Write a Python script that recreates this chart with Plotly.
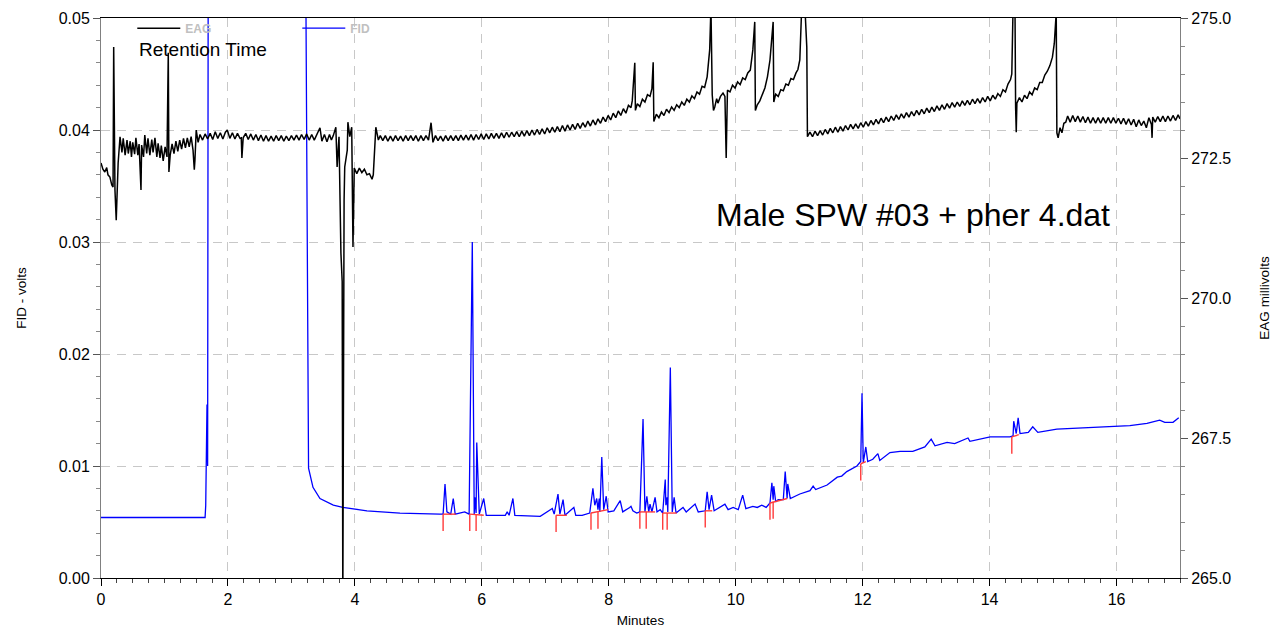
import plotly.graph_objects as go

# ---------------- data ----------------
fid_t = [0.00, 0.77, 1.64, 1.65, 1.67, 1.68, 1.69, 3.22, 3.25, 3.27, 3.34, 3.45, 3.66, 3.81,
         4.19, 4.71, 5.34, 5.39, 5.42, 5.45, 5.51, 5.55, 5.58, 5.73, 5.80, 5.85, 5.88, 5.89,
         5.91, 5.92, 5.96, 6.03, 6.07, 6.37, 6.40, 6.43, 6.49, 6.52, 6.92, 7.11, 7.14, 7.20,
         7.23, 7.28, 7.31, 7.45, 7.48, 7.58, 7.70, 7.75, 7.78, 7.81, 7.83, 7.85, 7.86, 7.89,
         7.92, 7.96, 7.99, 8.08, 8.18, 8.22, 8.33, 8.35, 8.38, 8.44, 8.49, 8.54, 8.57, 8.60,
         8.63, 8.65, 8.68, 8.73, 8.76, 8.81, 8.85, 8.89, 8.90, 8.92, 8.93, 8.97, 9.00, 9.03,
         9.06, 9.17, 9.22, 9.36, 9.41, 9.52, 9.55, 9.58, 9.62, 9.66, 9.83, 9.88, 9.96, 10.04,
         10.11, 10.16, 10.27, 10.34, 10.41, 10.48, 10.54, 10.57, 10.59, 10.60, 10.63, 10.67,
         10.75, 10.78, 10.81, 10.82, 10.86, 11.01, 11.17, 11.22, 11.26, 11.44, 11.60, 11.67,
         11.75, 11.91, 11.97, 11.99, 12.01, 12.05, 12.08, 12.16, 12.24, 12.27, 12.43, 12.59,
         12.79, 12.98, 13.08, 13.14, 13.33, 13.45, 13.66, 13.69, 14.01, 14.32, 14.37, 14.38,
         14.42, 14.45, 14.48, 14.61, 14.68, 14.76, 15.06, 15.42, 15.74, 15.94, 16.21, 16.48,
         16.68, 16.76, 16.89, 16.98]
fid_v = [0.0054, 0.0054, 0.0054, 0.0065, 0.0155, 0.0100, 0.0600, 0.0600, 0.0300, 0.0098,
         0.0081, 0.0071, 0.0065, 0.0063, 0.0060, 0.0058, 0.0057, 0.0057, 0.0084, 0.0059,
         0.0057, 0.0071, 0.0057, 0.0059, 0.0057, 0.0300, 0.0057, 0.0072, 0.0058, 0.0121,
         0.0057, 0.0071, 0.0056, 0.0056, 0.0059, 0.0056, 0.0071, 0.0056, 0.0055, 0.0062,
         0.0057, 0.0075, 0.0057, 0.0070, 0.0056, 0.0063, 0.0056, 0.0056, 0.0058, 0.0080,
         0.0065, 0.0071, 0.0061, 0.0071, 0.0059, 0.0108, 0.0061, 0.0073, 0.0059, 0.0060,
         0.0069, 0.0059, 0.0063, 0.0064, 0.0060, 0.0058, 0.0059, 0.0142, 0.0059, 0.0073,
         0.0059, 0.0066, 0.0059, 0.0072, 0.0059, 0.0061, 0.0058, 0.0088, 0.0065, 0.0072,
         0.0059, 0.0188, 0.0059, 0.0072, 0.0058, 0.0063, 0.0059, 0.0066, 0.0059, 0.0060,
         0.0077, 0.0061, 0.0074, 0.0060, 0.0066, 0.0061, 0.0063, 0.0061, 0.0074, 0.0062,
         0.0064, 0.0063, 0.0065, 0.0063, 0.0067, 0.0085, 0.0070, 0.0082, 0.0068, 0.0070,
         0.0070, 0.0095, 0.0071, 0.0084, 0.0071, 0.0075, 0.0078, 0.0082, 0.0079, 0.0083,
         0.0090, 0.0091, 0.0095, 0.0100, 0.0104, 0.0165, 0.0103, 0.0117, 0.0104, 0.0106,
         0.0111, 0.0105, 0.0112, 0.0113, 0.0113, 0.0117, 0.0124, 0.0118, 0.0121, 0.0120,
         0.0125, 0.0122, 0.0126, 0.0126, 0.0127, 0.0140, 0.0129, 0.0143, 0.0129, 0.0130,
         0.0135, 0.0130, 0.0133, 0.0134, 0.0135, 0.0135, 0.0136, 0.0138, 0.0141, 0.0139,
         0.0139, 0.0143]

# EAG trace, segment by segment (time in minutes / signal in mV)
eag_t = [
    # 0 - 0.30
    0.00, 0.03, 0.06, 0.09, 0.11, 0.14, 0.17, 0.19, 0.20, 0.22, 0.24, 0.25, 0.27, 0.30,
    # 0.30 - 1.56
    0.33, 0.35, 0.38, 0.41, 0.43, 0.46, 0.48, 0.50, 0.53, 0.55, 0.58, 0.60, 0.63, 0.64,
    0.67, 0.69, 0.72, 0.74, 0.77, 0.80, 0.82, 0.85, 0.88, 0.90, 0.93, 0.95, 0.98, 1.01,
    1.04, 1.06, 1.07, 1.09, 1.12, 1.15, 1.18, 1.21, 1.24, 1.27, 1.30, 1.33, 1.36, 1.39,
    1.42, 1.45, 1.47, 1.48, 1.50, 1.53, 1.56,
    # 1.56 - 3.99
    1.60, 1.64, 1.68, 1.72, 1.76, 1.80, 1.84, 1.88, 1.92, 1.96, 1.99, 2.03, 2.07, 2.11,
    2.15, 2.19, 2.21, 2.22, 2.24, 2.28, 2.32, 2.36, 2.40, 2.44, 2.48, 2.52, 2.56, 2.60,
    2.64, 2.68, 2.72, 2.76, 2.80, 2.84, 2.88, 2.92, 2.96, 3.00, 3.04, 3.08, 3.12, 3.16,
    3.20, 3.24, 3.28, 3.32, 3.36, 3.40, 3.45, 3.48, 3.52, 3.56, 3.60, 3.63, 3.66, 3.70,
    3.72, 3.75, 3.78, 3.80, 3.81, 3.83, 3.84, 3.88, 3.89, 3.92, 3.95, 3.97, 3.99,
    # plateau 4.0 - 4.33
    4.03, 4.07, 4.11, 4.15, 4.19, 4.23, 4.27, 4.29, 4.33,
    # 4.33 - 8.41
    4.37, 4.40, 4.44, 4.48, 4.52, 4.56, 4.60, 4.64, 4.68, 4.72, 4.76, 4.80, 4.84, 4.88,
    4.92, 4.96, 5.00, 5.04, 5.08, 5.12, 5.16, 5.20, 5.23, 5.27, 5.31, 5.35, 5.39, 5.43,
    5.47, 5.51, 5.55, 5.59, 5.63, 5.67, 5.71, 5.75, 5.79, 5.83, 5.87, 5.91, 5.95, 5.99,
    6.03, 6.07, 6.11, 6.15, 6.19, 6.23, 6.27, 6.31, 6.35, 6.39, 6.43, 6.47, 6.51, 6.55,
    6.59, 6.63, 6.67, 6.71, 6.75, 6.79, 6.83, 6.87, 6.91, 6.95, 6.99, 7.03, 7.07, 7.11,
    7.15, 7.19, 7.23, 7.27, 7.31, 7.35, 7.39, 7.43, 7.47, 7.51, 7.55, 7.59, 7.63, 7.67,
    7.71, 7.75, 7.79, 7.83, 7.87, 7.91, 7.95, 7.99, 8.03, 8.07, 8.11, 8.15, 8.19, 8.23,
    8.27, 8.31, 8.35, 8.37, 8.41,
    # responses 8.42 - 11.13
    8.42, 8.45, 8.49, 8.53, 8.57, 8.61, 8.65, 8.68, 8.70, 8.71, 8.75, 8.79, 8.83, 8.87,
    8.91, 8.95, 8.99, 9.03, 9.07, 9.11, 9.15, 9.19, 9.23, 9.27, 9.31, 9.35, 9.39, 9.43,
    9.47, 9.51, 9.55, 9.59, 9.61, 9.63, 9.65, 9.67, 9.70, 9.72, 9.76, 9.80, 9.83, 9.85,
    9.87, 9.91, 9.95, 9.99, 10.03, 10.07, 10.11, 10.15, 10.19, 10.23, 10.27, 10.30, 10.31,
    10.34, 10.38, 10.42, 10.46, 10.50, 10.54, 10.59, 10.60, 10.63, 10.67, 10.71, 10.75,
    10.79, 10.83, 10.87, 10.91, 10.95, 10.98, 11.01, 11.04, 11.09, 11.11, 11.12, 11.13,
    # slow drift 11.17 - 14.43
    11.17, 11.21, 11.25, 11.29, 11.33, 11.37, 11.41, 11.45, 11.49, 11.53, 11.57, 11.61,
    11.65, 11.69, 11.73, 11.77, 11.81, 11.85, 11.89, 11.93, 11.97, 12.01, 12.05, 12.09,
    12.13, 12.17, 12.21, 12.25, 12.29, 12.33, 12.37, 12.41, 12.45, 12.49, 12.53, 12.57,
    12.61, 12.65, 12.69, 12.73, 12.77, 12.81, 12.85, 12.89, 12.93, 12.97, 13.01, 13.05,
    13.09, 13.13, 13.17, 13.21, 13.25, 13.29, 13.33, 13.37, 13.41, 13.45, 13.49, 13.53,
    13.57, 13.61, 13.65, 13.69, 13.73, 13.77, 13.81, 13.85, 13.89, 13.93, 13.97, 14.01,
    14.05, 14.09, 14.13, 14.17, 14.21, 14.25, 14.29, 14.33, 14.35, 14.37, 14.40, 14.41,
    14.42, 14.43,
    # 14.47 - 15.08
    14.47, 14.51, 14.55, 14.59, 14.63, 14.67, 14.71, 14.75, 14.79, 14.83, 14.87, 14.91,
    14.95, 14.99, 15.02, 15.05, 15.06, 15.08,
    # 15.11 - 17
    15.11, 15.14, 15.17, 15.20, 15.23, 15.27, 15.31, 15.35, 15.39, 15.43, 15.47, 15.51,
    15.55, 15.59, 15.63, 15.67, 15.71, 15.75, 15.79, 15.83, 15.87, 15.91, 15.95, 15.99,
    16.03, 16.07, 16.11, 16.15, 16.19, 16.23, 16.27, 16.31, 16.35, 16.39, 16.43, 16.47,
    16.51, 16.55, 16.56, 16.57, 16.61, 16.65, 16.69, 16.73, 16.77, 16.81, 16.85, 16.89,
    16.93, 16.97, 17.00,
]
eag_mv = [
    # 0 - 0.30
    272.41, 272.30, 272.25, 272.33, 272.20, 272.16, 272.02, 271.98, 274.48, 271.93, 271.39,
    271.75, 272.41, 272.88,
    # 0.30 - 1.56
    272.60, 272.85, 272.55, 272.82, 272.58, 272.80, 272.52, 272.78, 272.57, 272.86, 272.55,
    272.75, 271.93, 272.73, 272.52, 272.91, 272.58, 272.85, 272.55, 272.83, 272.60, 272.86,
    272.52, 272.76, 272.50, 272.72, 272.45, 272.70, 272.52, 274.38, 272.25, 272.55, 272.75,
    272.58, 272.80, 272.62, 272.82, 272.66, 272.85, 272.68, 272.86, 272.70, 272.88, 272.64,
    272.29, 272.46, 273.00, 272.78, 272.92,
    # 1.56 - 3.99
    272.82, 272.93, 272.84, 272.94, 272.83, 272.97, 272.85, 272.95, 272.84, 272.96, 273.00,
    272.85, 272.95, 272.84, 272.94, 272.85, 272.86, 272.50, 272.86, 272.94, 272.83, 272.93,
    272.82, 272.92, 272.81, 272.91, 272.80, 272.90, 272.80, 272.89, 272.80, 272.90, 272.81,
    272.90, 272.80, 272.89, 272.81, 272.90, 272.82, 272.91, 272.82, 272.92, 272.83, 272.93,
    272.82, 272.92, 272.82, 272.93, 273.04, 272.80, 272.92, 272.79, 272.92, 272.82, 272.90,
    273.05, 272.34, 272.88, 270.80, 270.29, 264.60, 271.75, 272.34, 272.64, 273.14, 272.88,
    273.05, 270.91, 272.32,
    # plateau 4.0 - 4.33
    272.22, 272.32, 272.24, 272.30, 272.20, 272.22, 272.12, 272.20, 273.05,
    # 4.33 - 8.41
    272.82, 272.90, 272.81, 272.90, 272.80, 272.89, 272.80, 272.90, 272.81, 272.89, 272.80,
    272.90, 272.81, 272.90, 272.81, 272.90, 272.80, 272.90, 272.81, 272.90, 272.82, 273.13,
    272.78, 272.90, 272.81, 272.89, 272.80, 272.90, 272.81, 272.90, 272.81, 272.90, 272.81,
    272.91, 272.82, 272.91, 272.82, 272.92, 272.82, 272.92, 272.83, 272.93, 272.83, 272.93,
    272.84, 272.94, 272.85, 272.94, 272.85, 272.95, 272.86, 272.96, 272.87, 272.96, 272.88,
    272.97, 272.88, 272.98, 272.89, 272.99, 272.90, 273.00, 272.91, 273.01, 272.92, 273.02,
    272.93, 273.04, 272.95, 273.05, 272.96, 273.06, 272.97, 273.08, 272.98, 273.09, 273.00,
    273.10, 273.01, 273.12, 273.03, 273.13, 273.05, 273.16, 273.07, 273.18, 273.09, 273.20,
    273.12, 273.23, 273.15, 273.26, 273.18, 273.30, 273.22, 273.34, 273.26, 273.38, 273.30,
    273.44, 273.40, 273.52, 274.20,
    # responses 8.42 - 11.13
    273.35, 273.47, 273.42, 273.55, 273.50, 273.63, 273.60, 273.74, 274.21, 273.15, 273.28,
    273.22, 273.32, 273.26, 273.37, 273.31, 273.41, 273.35, 273.45, 273.40, 273.50, 273.44,
    273.55, 273.50, 273.61, 273.56, 273.68, 273.64, 273.78, 273.76, 273.95, 274.43, 275.20,
    273.63, 273.35, 273.41, 273.56, 273.48, 273.60, 273.66, 273.60, 272.50, 273.71, 273.68,
    273.80, 273.75, 273.86, 273.81, 273.93, 273.90, 274.02, 274.07, 274.43, 274.93, 273.35,
    273.45, 273.52, 273.62, 273.75, 273.95, 274.25, 274.93, 273.50, 273.64, 273.60, 273.72,
    273.70, 273.82, 273.80, 273.92, 273.90, 274.02, 274.08, 274.25, 275.20, 275.20, 274.55,
    274.48, 272.88,
    # slow drift 11.17 - 14.43
    272.96, 272.88, 272.98, 272.90, 272.99, 272.91, 273.01, 272.93, 273.03, 272.95, 273.05,
    272.96, 273.06, 272.98, 273.08, 273.00, 273.10, 273.02, 273.11, 273.03, 273.13, 273.05,
    273.15, 273.07, 273.17, 273.09, 273.19, 273.11, 273.21, 273.13, 273.23, 273.15, 273.25,
    273.17, 273.27, 273.19, 273.29, 273.21, 273.31, 273.23, 273.33, 273.25, 273.35, 273.27,
    273.37, 273.29, 273.39, 273.31, 273.41, 273.33, 273.43, 273.35, 273.45, 273.37, 273.47,
    273.39, 273.49, 273.41, 273.50, 273.42, 273.52, 273.44, 273.53, 273.45, 273.55, 273.47,
    273.56, 273.48, 273.58, 273.50, 273.60, 273.52, 273.62, 273.55, 273.65, 273.60, 273.72,
    273.68, 273.82, 273.90, 274.00, 275.20, 275.20, 273.40, 272.96, 273.48,
    # 14.47 - 15.08
    273.58, 273.50, 273.62, 273.56, 273.68, 273.63, 273.75, 273.72, 273.85, 273.85, 273.98,
    274.05, 274.15, 274.30, 274.55, 275.10, 272.95, 272.86,
    # 15.11 - 17
    273.04, 272.95, 273.12, 273.14, 273.25, 273.14, 273.26, 273.15, 273.25, 273.14, 273.24,
    273.13, 273.23, 273.12, 273.22, 273.12, 273.22, 273.12, 273.22, 273.12, 273.22, 273.12,
    273.22, 273.12, 273.21, 273.11, 273.21, 273.10, 273.20, 273.09, 273.19, 273.06, 273.18,
    273.08, 273.16, 273.04, 273.22, 273.10, 272.86, 273.23, 273.14, 273.24, 273.15, 273.25,
    273.15, 273.25, 273.16, 273.26, 273.17, 273.27, 273.20,
]
assert len(eag_t) == len(eag_mv), (len(eag_t), len(eag_mv))
assert len(fid_t) == len(fid_v), (len(fid_t), len(fid_v))

# peak start markers (integration baseline ticks) on the FID trace
mark_t = [5.39, 5.81, 5.91, 7.17, 7.72, 7.83, 8.49, 8.59, 8.85, 8.92, 9.52, 10.54, 10.59, 11.97, 14.35]
mark_v = [0.0057, 0.0057, 0.0057, 0.0056, 0.0058, 0.0059, 0.0059, 0.0059, 0.0058, 0.0058,
          0.0060, 0.0067, 0.0068, 0.0102, 0.0126]
mark_depth = 0.0015
# integration baselines
base_t0 = [5.39, 5.81, 7.17, 7.72, 8.49, 8.85, 9.52, 10.54, 11.97, 14.35]
base_v0 = [0.0057, 0.0057, 0.0056, 0.0058, 0.0059, 0.0058, 0.0060, 0.0067, 0.0102, 0.0126]
base_t1 = [5.59, 6.03, 7.34, 7.99, 8.73, 9.07, 9.63, 10.81, 12.05, 14.46]
base_v1 = [0.0057, 0.0056, 0.0056, 0.0061, 0.0059, 0.0058, 0.0060, 0.0071, 0.0104, 0.0128]

# ---------------- figure ----------------
FONT = "Liberation Sans, Arial, sans-serif"
fig = go.Figure()

fig.add_trace(go.Scatter(x=fid_t, y=fid_v, name="FID", mode="lines",
                         line=dict(color="#0000ff", width=1.3)))

rx, ry = [], []
for t, v in zip(mark_t, mark_v):
    rx += [t, t, None]
    ry += [v, v - mark_depth, None]
for a, b, c, d in zip(base_t0, base_v0, base_t1, base_v1):
    rx += [a, c, None]
    ry += [b, d, None]
fig.add_trace(go.Scatter(x=rx, y=ry, mode="lines", showlegend=False, hoverinfo="skip",
                         line=dict(color="#ff3a3a", width=1.4)))

fig.add_trace(go.Scatter(x=eag_t, y=eag_mv, name="EAG", mode="lines", yaxis="y2",
                         line=dict(color="black", width=1.5)))

grid = dict(showgrid=True, gridcolor="#c8c8c8", gridwidth=1.3, griddash="9px,7px")

fig.update_layout(
    width=1288, height=631,
    margin=dict(l=101, r=108, t=18, b=53),
    paper_bgcolor="white", plot_bgcolor="white",
    font=dict(family=FONT, color="black", size=16),
    xaxis=dict(range=[0, 17], tick0=0, dtick=2, **grid, zeroline=False, automargin=False,
               showline=True, linecolor="black", linewidth=1, mirror=True,
               ticks="outside", ticklen=7, tickcolor="black",
               minor=dict(dtick=0.25, ticks="outside", ticklen=4, tickcolor="#444", showgrid=False),
               tickfont=dict(size=16),
               title=dict(text="Minutes", font=dict(size=13.5), standoff=8)),
    yaxis=dict(range=[0, 0.05], tick0=0, dtick=0.01, tickformat=".2f", **grid, zeroline=False,
               automargin=False,
               showline=True, linecolor="#808080", linewidth=1,
               ticks="outside", ticklen=7, tickcolor="#555",
               minor=dict(dtick=0.002, ticks="outside", ticklen=4, tickcolor="#888", showgrid=False),
               tickfont=dict(size=16),
               title=dict(text="FID - volts", font=dict(size=13.5), standoff=28)),
    yaxis2=dict(range=[265, 275], tick0=265, dtick=2.5, tickformat=".1f", overlaying="y",
                side="right", showgrid=False, zeroline=False, automargin=False,
                showline=True, linecolor="#808080", linewidth=1,
                ticks="outside", ticklen=7, tickcolor="#555",
                minor=dict(dtick=0.5, ticks="outside", ticklen=4, tickcolor="#888"),
                tickfont=dict(size=16),
                title=dict(text="EAG millivolts", font=dict(size=13.5), standoff=29)),
    legend=dict(orientation="h", x=0.029, y=1.0077, xanchor="left", yanchor="top",
                bgcolor="rgba(0,0,0,0)", traceorder="reversed",
                itemwidth=43, entrywidth=107, entrywidthmode="pixels",
                font=dict(family=FONT, size=12, color="#c0c0c0", weight="bold")),
    annotations=[
        dict(text="Retention Time", xref="paper", yref="paper", x=0.0334, y=0.9446,
             xanchor="left", yanchor="middle", showarrow=False, font=dict(size=19, color="black")),
        dict(text="Male SPW #03 + pher 4.dat", xref="paper", yref="paper", x=0.753, y=0.648,
             xanchor="center", yanchor="middle", showarrow=False, font=dict(size=32, color="black")),
    ],
)

fig.write_html("out.html")
